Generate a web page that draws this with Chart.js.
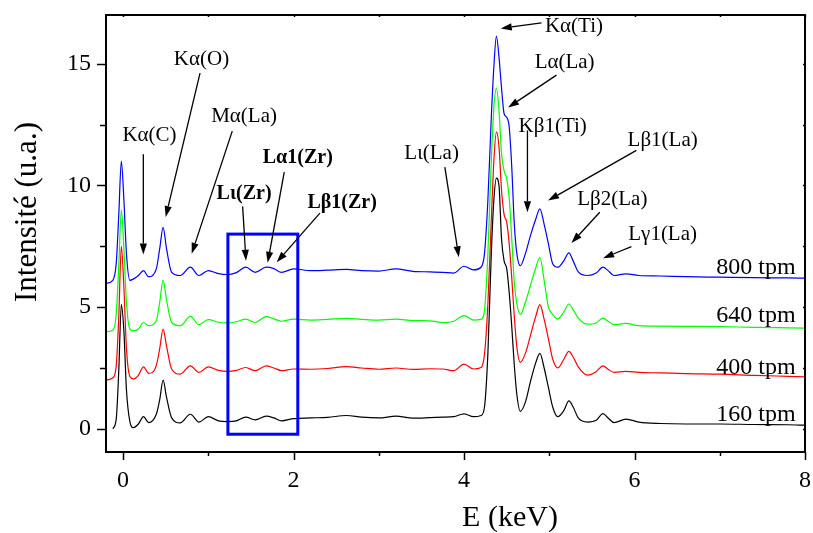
<!DOCTYPE html>
<html>
<head>
<meta charset="utf-8">
<script src="https://cdn.jsdelivr.net/npm/chart.js@4.4.0/dist/chart.umd.min.js"></script>
<style>
  html, body { margin: 0; padding: 0; background: #fff; }
  #wrap { width: 813px; height: 533px; }
</style>
</head>
<body>
<div id="wrap"><canvas id="spectra" width="813" height="533"></canvas></div>
<script>
// energy axis (keV) shared by the four spectra
const energy = [
  -0.2, -0.12, -0.08, -0.05, -0.02, 0.01, 0.04, 0.08, 0.12, 0.18,
  0.24, 0.3, 0.39, 0.43, 0.47, 0.51, 0.57, 0.67, 0.79, 0.89,
  1.0, 1.12, 1.22, 1.33, 1.44, 1.55, 1.68, 1.77, 1.86, 2.0,
  2.2, 2.4, 2.62, 2.8, 3.0, 3.2, 3.4, 3.6, 3.75, 3.88,
  4.0, 4.11, 4.2, 4.24, 4.28, 4.32, 4.35, 4.38, 4.41, 4.44,
  4.47, 4.5, 4.53, 4.56, 4.59, 4.62, 4.66, 4.72, 4.78, 4.84,
  4.89, 4.94, 4.99, 5.04, 5.1, 5.17, 5.23, 5.28, 5.34, 5.45,
  5.55, 5.63, 5.69, 5.76, 5.9, 6.05, 6.3, 6.6, 7.0, 7.4,
  7.8, 8.0
];

const tpm160 = [
  null, 0.0, 0.4, 2.4, 5.1, 4.0, 1.6, 0.3, 0.05, 0.2,
  0.5, 0.26, 0.6, 1.2, 2.0, 1.3, 0.45, 0.25, 0.6, 0.28,
  0.5, 0.33, 0.3, 0.33, 0.48, 0.37, 0.52, 0.45, 0.33, 0.42,
  0.45, 0.47, 0.55, 0.48, 0.45, 0.52, 0.44, 0.46, 0.48, 0.5,
  0.62, 0.5, 0.55, 0.9, 3.1, 7.2, 9.4, 10.3, 10.0, 7.8,
  6.9, 6.6, 5.6, 4.2, 2.6, 1.4, 0.72, 1.1, 1.95, 2.7,
  3.1, 2.5, 1.7, 0.9, 0.5, 0.75, 1.15, 0.9, 0.45, 0.28,
  0.35, 0.63, 0.45, 0.26, 0.4, 0.28, 0.22, 0.2, 0.2, 0.18,
  0.17, 0.15
];

const tpm400 = [
  2.0, 2.1, 2.6, 4.6, 7.5, 5.8, 3.3, 2.15, 2.05, 2.2,
  2.55, 2.28, 2.6, 3.3, 4.1, 3.4, 2.46, 2.25, 2.59, 2.32,
  2.55, 2.4, 2.36, 2.4, 2.52, 2.39, 2.59, 2.5, 2.39, 2.46,
  2.45, 2.48, 2.56, 2.5, 2.45, 2.5, 2.44, 2.47, 2.46, 2.39,
  2.66, 2.46, 2.52, 3.07, 5.13, 8.56, 11.0, 12.2, 11.6, 9.8,
  8.8, 8.5, 7.6, 6.2, 4.6, 3.35, 2.73, 3.1, 3.85, 4.6,
  5.1, 4.5, 3.7, 2.87, 2.5, 2.85, 3.18, 2.95, 2.55, 2.21,
  2.35, 2.59, 2.45, 2.32, 2.36, 2.32, 2.3, 2.27, 2.25, 2.2,
  2.16, 2.14
];

const tpm640 = [
  3.99, 4.05, 4.7, 6.7, 9.0, 7.4, 5.2, 4.1, 4.03, 4.1,
  4.37, 4.24, 4.44, 5.2, 6.1, 5.3, 4.37, 4.24, 4.62, 4.28,
  4.49, 4.38, 4.35, 4.4, 4.51, 4.37, 4.61, 4.52, 4.42, 4.51,
  4.47, 4.5, 4.54, 4.5, 4.47, 4.51, 4.45, 4.44, 4.37, 4.42,
  4.65, 4.47, 4.5, 4.86, 7.19, 11.0, 13.2, 14.0, 13.1, 11.3,
  10.6, 10.3, 9.5, 7.8, 6.0, 5.13, 4.7, 5.2, 5.9, 6.6,
  7.05, 6.1, 5.0, 4.7, 4.51, 4.8, 5.13, 4.9, 4.55, 4.3,
  4.35, 4.55, 4.42, 4.28, 4.33, 4.24, 4.22, 4.21, 4.2, 4.17,
  4.15, 4.14
];

const tpm800 = [
  5.98, 6.1, 6.8, 8.8, 11.0, 9.4, 7.2, 6.1, 6.15, 6.3,
  6.5, 6.25, 6.57, 7.4, 8.28, 7.4, 6.43, 6.3, 6.64, 6.3,
  6.5, 6.38, 6.34, 6.42, 6.64, 6.43, 6.64, 6.58, 6.43, 6.57,
  6.5, 6.52, 6.55, 6.5, 6.48, 6.57, 6.47, 6.45, 6.43, 6.4,
  6.68, 6.53, 6.64, 7.2, 9.4, 12.8, 14.87, 16.13, 15.28, 14.0,
  12.95, 12.8, 12.4, 10.75, 8.4, 7.19, 6.7, 7.2, 7.95, 8.6,
  9.04, 8.4, 7.6, 6.78, 6.64, 6.9, 7.23, 6.9, 6.45, 6.3,
  6.4, 6.64, 6.5, 6.3, 6.37, 6.3, 6.28, 6.25, 6.23, 6.21,
  6.2, 6.19
];

const seriesNames = ['160 tpm', '400 tpm', '640 tpm', '800 tpm'];
const seriesValues = [tpm160, tpm400, tpm640, tpm800];
const seriesColors = ['#000000', '#ff0000', '#00ff00', '#0000ff'];

const xTicks = [0, 1, 2, 3, 4, 5, 6, 7, 8];
const yTicks = [0, 2.5, 5, 7.5, 10, 12.5, 15];

// where each "xxx tpm" name sits (right end, baseline), keV / intensity
const nameAnchors = [[7.89, 0.33], [7.89, 2.27], [7.89, 4.4], [7.89, 6.35]];

// peak labels: text centre, arrow start, arrow tip (keV, intensity)
const peakLabels = [
  { t: 'Kα(C)',   bold: false, at: [0.31, 12.06], from: [0.238, 11.28], to: [0.238, 7.16] },
  { t: 'Kα(O)',   bold: false, at: [0.92, 15.16], from: [0.903, 14.61], to: [0.5, 8.7] },
  { t: 'Mα(La)',  bold: false, at: [1.42, 12.82], from: [1.281, 12.23], to: [0.805, 7.19] },
  { t: 'Lι(Zr)',  bold: true,  at: [1.42, 9.65],  from: [1.403, 9.14],  to: [1.442, 6.91] },
  { t: 'Lα1(Zr)', bold: true,  at: [2.05, 11.13], from: [1.891, 10.55], to: [1.696, 6.82] },
  { t: 'Lβ1(Zr)', bold: true,  at: [2.57, 9.28],  from: [2.309, 8.86],  to: [1.802, 6.84] },
  { t: 'Lι(La)',  bold: false, at: [3.62, 11.3],  from: [3.775, 10.75], to: [3.939, 7.05] },
  { t: 'Kα(Ti)',  bold: false, at: [5.29, 16.52], from: [4.909, 16.68], to: [4.431, 16.45] },
  { t: 'Lα(La)',  bold: false, at: [5.18, 15.04], from: [5.084, 14.53], to: [4.517, 13.2] },
  { t: 'Kβ1(Ti)', bold: false, at: [5.04, 12.43], from: [4.744, 12.26], to: [4.744, 8.9] },
  { t: 'Lβ1(La)', bold: false, at: [6.33, 11.85], from: [6.022, 11.44], to: [4.986, 9.38] },
  { t: 'Lβ2(La)', bold: false, at: [5.74, 9.44],  from: [5.592, 8.9],   to: [5.26, 7.63] },
  { t: 'Lγ1(La)', bold: false, at: [6.33, 8.0],   from: [5.964, 7.49],  to: [5.631, 7.01] }
];

// highlighted Zr region [x0, y0, x1, y1]
const zrBox = [1.23, -0.22, 2.05, 8.0];

const SERIF = '"Liberation Serif", "Times New Roman", serif';

function toPoints(vals) {
  const pts = [];
  energy.forEach((e, i) => { if (vals[i] !== null) pts.push({ x: e, y: vals[i] }); });
  return pts;
}

function arrow(ctx, x1, y1, x2, y2) {
  const ang = Math.atan2(y2 - y1, x2 - x1);
  const head = 11, half = 3.6;
  const bx = x2 - head * Math.cos(ang), by = y2 - head * Math.sin(ang);
  ctx.beginPath();
  ctx.moveTo(x1, y1);
  ctx.lineTo(bx, by);
  ctx.stroke();
  ctx.beginPath();
  ctx.moveTo(x2, y2);
  ctx.lineTo(bx + half * Math.sin(ang), by - half * Math.cos(ang));
  ctx.lineTo(bx - half * Math.sin(ang), by + half * Math.cos(ang));
  ctx.closePath();
  ctx.fill();
}

const decor = {
  id: 'decor',
  afterDatasetsDraw(chart) {
    const { ctx, chartArea: a } = chart;
    const x = chart.scales.x, y = chart.scales.y;
    ctx.save();

    // Zr box
    ctx.strokeStyle = '#0000ff';
    ctx.lineWidth = 3;
    const bx0 = x.getPixelForValue(zrBox[0]), bx1 = x.getPixelForValue(zrBox[2]);
    const by0 = y.getPixelForValue(zrBox[3]), by1 = y.getPixelForValue(zrBox[1]);
    ctx.strokeRect(bx0, by0, bx1 - bx0, by1 - by0);

    // frame and tick marks
    ctx.strokeStyle = '#000';
    ctx.lineWidth = 2;
    ctx.strokeRect(a.left, a.top, a.right - a.left, a.bottom - a.top);
    ctx.lineWidth = 1.5;
    xTicks.forEach(v => {
      const px = Math.round(x.getPixelForValue(v)) + 0.5;
      const len = v % 2 === 0 ? 8 : 4;
      ctx.beginPath();
      ctx.moveTo(px, a.bottom); ctx.lineTo(px, a.bottom + len);
      ctx.moveTo(px, a.top); ctx.lineTo(px, a.top + 2);
      ctx.stroke();
    });
    yTicks.forEach(v => {
      const py = Math.round(y.getPixelForValue(v)) + 0.5;
      const len = v % 5 === 0 ? 9 : 6;
      ctx.beginPath();
      ctx.moveTo(a.left, py); ctx.lineTo(a.left - len, py);
      ctx.moveTo(a.right, py); ctx.lineTo(a.right - 2, py);
      ctx.stroke();
    });

    // peak labels with arrows
    ctx.fillStyle = '#000';
    ctx.strokeStyle = '#000';
    ctx.lineWidth = 1.3;
    ctx.textAlign = 'center';
    ctx.textBaseline = 'middle';
    peakLabels.forEach(p => {
      ctx.font = (p.bold ? 'bold 20px ' : '21px ') + SERIF;
      ctx.fillText(p.t, x.getPixelForValue(p.at[0]), y.getPixelForValue(p.at[1]));
      arrow(ctx,
        x.getPixelForValue(p.from[0]), y.getPixelForValue(p.from[1]),
        x.getPixelForValue(p.to[0]), y.getPixelForValue(p.to[1]));
    });

    // series names
    ctx.font = '24px ' + SERIF;
    ctx.textAlign = 'right';
    ctx.textBaseline = 'alphabetic';
    seriesNames.forEach((n, i) => {
      ctx.fillText(n, x.getPixelForValue(nameAnchors[i][0]), y.getPixelForValue(nameAnchors[i][1]));
    });

    // axis titles
    ctx.textAlign = 'center';
    ctx.textBaseline = 'middle';
    ctx.font = '30px ' + SERIF;
    ctx.fillText('E (keV)', 510, 518);
    ctx.save();
    ctx.translate(28, 212);
    ctx.rotate(-Math.PI / 2);
    ctx.font = '31px ' + SERIF;
    ctx.fillText('Intensité (u.a.)', 0, 0);
    ctx.restore();

    ctx.restore();
  }
};

Chart.defaults.color = '#000';
Chart.defaults.font.family = SERIF;

new Chart(document.getElementById('spectra'), {
  type: 'line',
  data: {
    datasets: seriesNames.map((n, i) => ({
      label: n,
      data: toPoints(seriesValues[i]),
      borderColor: seriesColors[i],
      borderWidth: 1.2,
      pointRadius: 0,
      fill: false,
      cubicInterpolationMode: 'monotone'
    }))
  },
  options: {
    responsive: false,
    animation: false,
    devicePixelRatio: 1,
    layout: { padding: { left: 0, right: 8, top: 15, bottom: 0 } },
    plugins: { legend: { display: false }, tooltip: { enabled: false } },
    scales: {
      x: {
        type: 'linear',
        min: -0.2,
        max: 8,
        afterBuildTicks: s => { s.ticks = xTicks.map(v => ({ value: v })); },
        afterFit: s => { s.height = 81; s.paddingLeft = 0; s.paddingRight = 0; },
        grid: { display: false, drawTicks: true, tickLength: 8 },
        border: { display: false },
        ticks: {
          autoSkip: false,
          maxRotation: 0,
          padding: 6,
          font: { size: 24, family: SERIF },
          callback: v => (v % 2 === 0 ? String(v) : '')
        }
      },
      y: {
        type: 'linear',
        min: -0.95,
        max: 17,
        afterBuildTicks: s => { s.ticks = yTicks.map(v => ({ value: v })); },
        afterFit: s => { s.width = 106; s.paddingTop = 0; s.paddingBottom = 0; },
        grid: { display: false, drawTicks: true, tickLength: 9 },
        border: { display: false },
        ticks: {
          autoSkip: false,
          padding: 6,
          font: { size: 24, family: SERIF },
          callback: v => (v % 5 === 0 ? String(v) : '')
        }
      }
    }
  },
  plugins: [decor]
});
</script>
</body>
</html>
